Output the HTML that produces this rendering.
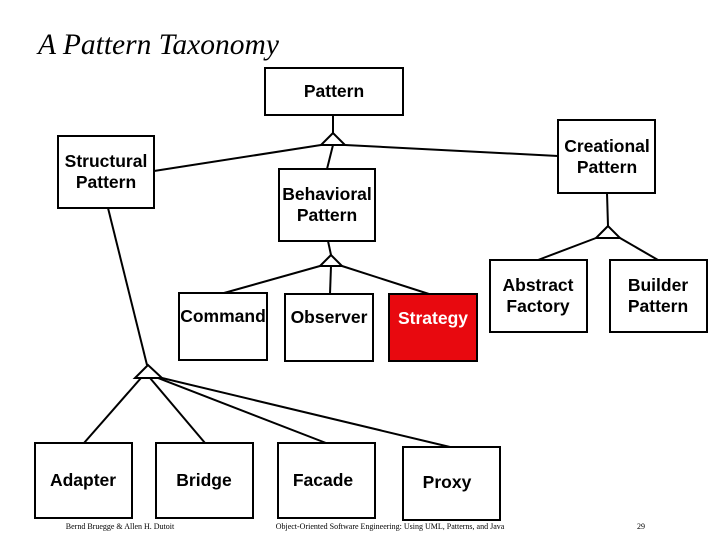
<!DOCTYPE html>
<html><head><style>
body{margin:0;width:720px;height:540px;background:#fff;overflow:hidden}
text.n{font-family:"Liberation Sans",sans-serif;font-weight:bold;font-size:17.5px}
text.f{font-family:"Liberation Serif",serif;font-weight:normal;font-size:8px}
</style></head><body>
<svg width="720" height="540" xmlns="http://www.w3.org/2000/svg">
<text x="38" y="54" style="font-family:'Liberation Serif',serif;font-style:italic;font-weight:normal;font-size:29.5px">A Pattern Taxonomy</text>
<g fill="#fff" stroke="#000" stroke-width="2">
<rect x="265" y="68" width="138" height="47"/>
<rect x="58" y="136" width="96" height="72"/>
<rect x="558" y="120" width="97" height="73"/>
<rect x="279" y="169" width="96" height="72"/>
<rect x="179" y="293" width="88" height="67"/>
<rect x="285" y="294" width="88" height="67"/>
<rect x="389" y="294" width="88" height="67" fill="#e8090f"/>
<rect x="490" y="260" width="97" height="72"/>
<rect x="610" y="260" width="97" height="72"/>
<rect x="35" y="443" width="97" height="75"/>
<rect x="156" y="443" width="97" height="75"/>
<rect x="278" y="443" width="97" height="75"/>
<rect x="403" y="447" width="97" height="73"/>
</g>
<g stroke="#000" stroke-width="2" fill="none">
<line x1="333" y1="115" x2="333" y2="133"/>
<polygon points="333,133 321,145 345,145" fill="#fff"/>
<line x1="321" y1="145" x2="154" y2="171"/>
<line x1="345" y1="145" x2="558" y2="156"/>
<line x1="333" y1="145" x2="327" y2="169"/>
<line x1="328" y1="241" x2="331" y2="255"/>
<polygon points="331,255 320,266 342,266" fill="#fff"/>
<line x1="320" y1="266" x2="224" y2="293"/>
<line x1="331" y1="266" x2="330" y2="294"/>
<line x1="342" y1="266" x2="429" y2="294"/>
<line x1="607" y1="193" x2="608" y2="226"/>
<polygon points="608,226 596,238 620,238" fill="#fff"/>
<line x1="596" y1="238" x2="538" y2="260"/>
<line x1="620" y1="238" x2="658" y2="260"/>
<line x1="108" y1="208" x2="147" y2="365"/>
<polygon points="148,365 135,378 162,378" fill="#fff"/>
<line x1="141" y1="378" x2="84" y2="443"/>
<line x1="150" y1="378" x2="205" y2="443"/>
<line x1="158" y1="378" x2="326" y2="443"/>
<line x1="162" y1="378" x2="450" y2="447"/>
</g>
<g text-anchor="middle">
<text class="n" x="334" y="97">Pattern</text>
<text class="n" x="106" y="167">Structural</text><text class="n" x="106" y="188">Pattern</text>
<text class="n" x="607" y="152">Creational</text><text class="n" x="607" y="173">Pattern</text>
<text class="n" x="327" y="200">Behavioral</text><text class="n" x="327" y="221">Pattern</text>
<text class="n" x="223" y="322">Command</text>
<text class="n" x="329" y="323">Observer</text>
<text class="n" x="433" y="324" fill="#fff">Strategy</text>
<text class="n" x="538" y="291">Abstract</text><text class="n" x="538" y="312">Factory</text>
<text class="n" x="658" y="291">Builder</text><text class="n" x="658" y="312">Pattern</text>
<text class="n" x="83" y="486">Adapter</text>
<text class="n" x="204" y="486">Bridge</text>
<text class="n" x="323" y="486">Facade</text>
<text class="n" x="447" y="488">Proxy</text>
<text class="f" x="120" y="529">Bernd Bruegge &amp; Allen H. Dutoit</text>
<text class="f" x="390" y="529">Object-Oriented Software Engineering: Using UML, Patterns, and Java</text>
<text class="f" x="641" y="529">29</text>
</g>
</svg>
</body></html>
